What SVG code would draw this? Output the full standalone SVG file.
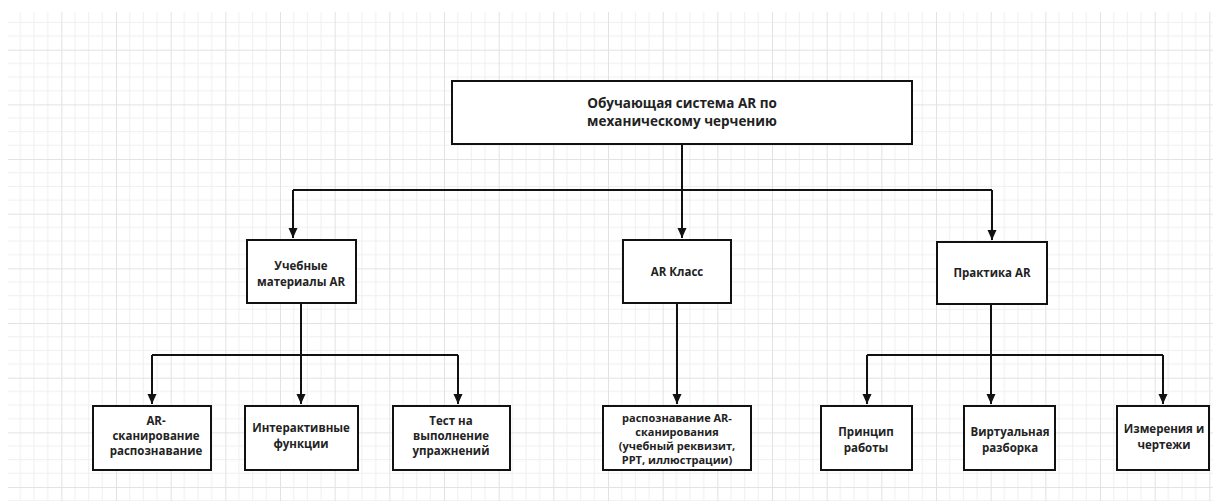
<svg xmlns="http://www.w3.org/2000/svg" width="1213" height="501" viewBox="0 0 1213 501">
<defs>
<pattern id="grid" patternUnits="userSpaceOnUse" x="6.67" y="-4.97" width="54.667" height="54.667">
<path d="M13.667 0V54.667M27.333 0V54.667M41 0V54.667M0 13.667H54.667M0 27.333H54.667M0 41H54.667" stroke="#efefef" stroke-width="1" fill="none"/>
<path d="M0.5 0V54.667M0 0.5H54.667" stroke="#e2e2e2" stroke-width="1" fill="none"/>
</pattern>
<marker id="arr" viewBox="0 0 10 10" refX="10" refY="5" markerWidth="10" markerHeight="10" markerUnits="userSpaceOnUse" orient="auto">
<path d="M0 0.5L10 5L0 9.5Z" fill="#111"/>
</marker>
<style>
.box{fill:#fff;stroke:#111;stroke-width:2}
.t{font-family:"Open Sans","Noto Sans","Liberation Sans",sans-serif;font-weight:bold;font-size:11.5px;fill:#222;text-anchor:middle}
.tt{font-size:13.5px}
.c{fill:none;stroke:#111;stroke-width:2}
</style>
</defs>
<rect x="0" y="0" width="1213" height="501" fill="#fff"/>
<rect x="8" y="12" width="1205" height="489" fill="url(#grid)"/>
<g id="connectors">
<path class="c" d="M682 144V190"/>
<path class="c" d="M293 190H992"/>
<path class="c" d="M293 190V238" marker-end="url(#arr)"/>
<path class="c" d="M682 190V238" marker-end="url(#arr)"/>
<path class="c" d="M992 190V240" marker-end="url(#arr)"/>
<path class="c" d="M301 303V355"/>
<path class="c" d="M152 355H458"/>
<path class="c" d="M152 355V404" marker-end="url(#arr)"/>
<path class="c" d="M301 355V404" marker-end="url(#arr)"/>
<path class="c" d="M458 355V404" marker-end="url(#arr)"/>
<path class="c" d="M677 303V404" marker-end="url(#arr)"/>
<path class="c" d="M991 304V355"/>
<path class="c" d="M867 355H1163"/>
<path class="c" d="M867 355V404" marker-end="url(#arr)"/>
<path class="c" d="M991 355V404" marker-end="url(#arr)"/>
<path class="c" d="M1163 355V404" marker-end="url(#arr)"/>
</g>
<g id="root">
<rect class="box" x="452" y="81" width="460" height="63"/>
<text class="t tt" x="682" y="108">Обучающая система AR по</text>
<text class="t tt" x="682" y="126">механическому черчению</text>
</g>
<g id="n-materials">
<rect class="box" x="247" y="240" width="109" height="63"/>
<text class="t" x="301" y="270">Учебные</text>
<text class="t" x="301" y="286">материалы AR</text>
</g>
<g id="n-class">
<rect class="box" x="623" y="240" width="108" height="63"/>
<text class="t" x="677" y="276">AR Класс</text>
</g>
<g id="n-practice">
<rect class="box" x="937" y="242" width="110" height="62"/>
<text class="t" x="992" y="277">Практика AR</text>
</g>
<g id="n-scan">
<rect class="box" x="93" y="406" width="118" height="64"/>
<text class="t" x="156" y="425">AR-</text>
<text class="t" x="156" y="440">сканирование</text>
<text class="t" x="156" y="455">распознавание</text>
</g>
<g id="n-interactive">
<rect class="box" x="245" y="406" width="113" height="64"/>
<text class="t" x="301" y="432">Интерактивные</text>
<text class="t" x="301" y="448">функции</text>
</g>
<g id="n-test">
<rect class="box" x="393" y="406" width="117" height="64"/>
<text class="t" x="451" y="425">Тест на</text>
<text class="t" x="451" y="440">выполнение</text>
<text class="t" x="451" y="455">упражнений</text>
</g>
<g id="n-recog">
<rect class="box" x="603" y="406" width="148" height="64"/>
<text class="t" x="677" y="422" style="font-size:11px">распознавание AR-</text>
<text class="t" x="677" y="436" style="font-size:11px">сканирования</text>
<text class="t" x="677" y="450" style="font-size:11px">(учебный реквизит,</text>
<text class="t" x="677" y="464" style="font-size:11px">PPT, иллюстрации)</text>
</g>
<g id="n-principle">
<rect class="box" x="821" y="406" width="91" height="64"/>
<text class="t" x="866" y="436">Принцип</text>
<text class="t" x="866" y="452">работы</text>
</g>
<g id="n-virtual">
<rect class="box" x="964" y="406" width="91" height="64"/>
<text class="t" x="1010" y="436">Виртуальная</text>
<text class="t" x="1010" y="452">разборка</text>
</g>
<g id="n-measure">
<rect class="box" x="1117" y="406" width="92" height="64"/>
<text class="t" x="1164" y="433">Измерения и</text>
<text class="t" x="1164" y="449">чертежи</text>
</g>
</svg>
